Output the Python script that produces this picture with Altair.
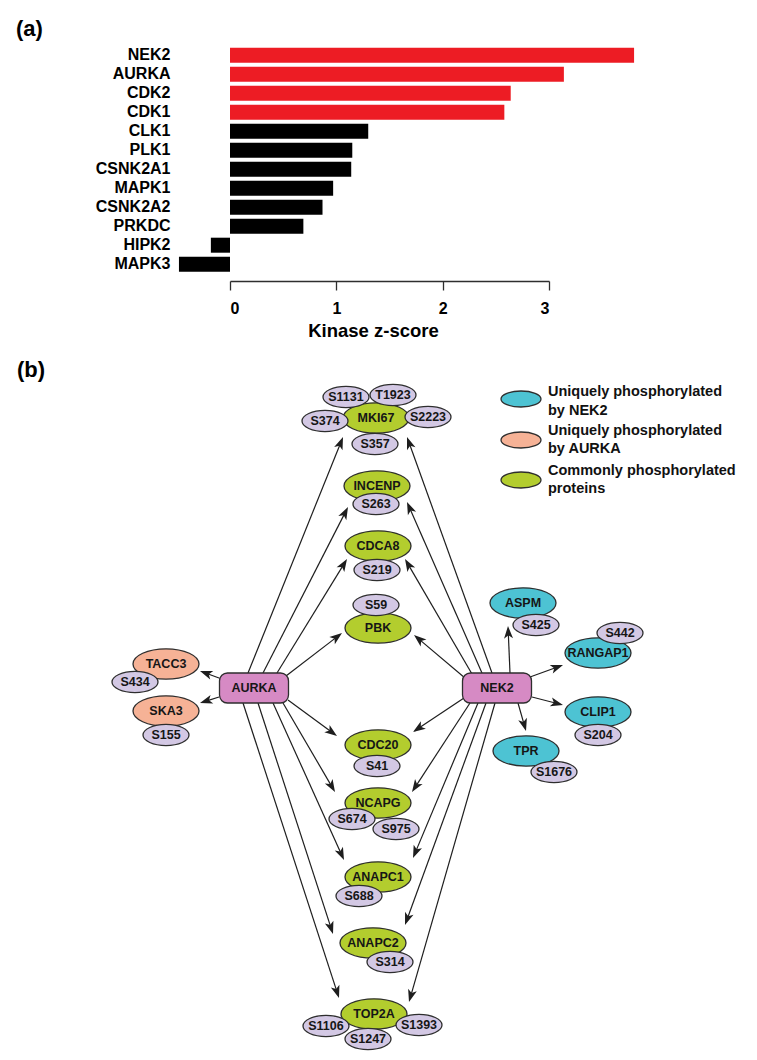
import math
import altair as alt
import pandas as pd

# ---------------- (a) kinase z-scores ----------------
kinases = ["NEK2", "AURKA", "CDK2", "CDK1", "CLK1", "PLK1", "CSNK2A1",
           "MAPK1", "CSNK2A2", "PRKDC", "HIPK2", "MAPK3"]
zscores = [3.80, 3.14, 2.64, 2.58, 1.30, 1.15, 1.14, 0.97, 0.87, 0.69, -0.18, -0.48]
significant = [True, True, True, True, False, False, False, False, False, False, False, False]
z_ticks = [0, 1, 2, 3]

# ---------------- (b) network layout (layout units) ----------------
protein_names = ["MKI67", "INCENP", "CDCA8", "PBK", "CDC20", "NCAPG", "ANAPC1", "ANAPC2", "TOP2A",
                 "TACC3", "SKA3", "ASPM", "RANGAP1", "CLIP1", "TPR"]
protein_kind = ["common"] * 9 + ["aurka"] * 2 + ["nek2"] * 4
protein_x = [376, 377, 378, 378, 378, 378, 378, 373, 374, 166, 166, 523, 598, 598, 526]
protein_y = [418, 486, 546, 628, 745, 803, 877, 943, 1014, 664, 711, 603, 653, 712, 751]

site_names = ["S1131", "T1923", "S374", "S2223", "S357", "S263", "S219", "S59", "S41",
              "S674", "S975", "S688", "S314", "S1106", "S1393", "S1247",
              "S434", "S155", "S425", "S442", "S204", "S1676"]
site_x = [346, 393, 325, 428, 375, 376, 377, 376, 377, 352, 396, 359, 390, 326, 419, 368,
          135, 166, 536, 620, 598, 554]
site_y = [397, 395, 421, 417, 444, 504, 570, 605, 766, 819, 829, 896, 962, 1026, 1025, 1039,
          682, 735, 625, 633, 735, 772]

kinase_nodes = ["AURKA", "NEK2"]
kinase_x = [254, 497]
kinase_y = [688, 688]

edge_source = ["AURKA"] * 11 + ["NEK2"] * 13
edge_target = ["TACC3", "SKA3", "MKI67", "INCENP", "CDCA8", "PBK", "CDC20", "NCAPG", "ANAPC1", "ANAPC2", "TOP2A",
               "ASPM", "RANGAP1", "CLIP1", "TPR", "MKI67", "INCENP", "CDCA8", "PBK", "CDC20", "NCAPG",
               "ANAPC1", "ANAPC2", "TOP2A"]
edge_x0 = [219, 219, 248, 263, 277, 286, 288, 283, 273, 258, 243,
           510, 530, 532, 518, 492, 482, 472, 465, 464, 470, 478, 486, 495]
edge_y0 = [678, 697, 673, 673, 673, 676, 700, 703, 703, 703, 703,
           673, 677, 697, 703, 673, 673, 674, 678, 698, 703, 703, 703, 703]
edge_x1 = [200, 200, 343, 348, 347, 342, 337, 335, 344, 333, 339,
           508, 563, 563, 526, 407, 407, 405, 414, 413, 412, 413, 405, 409]
edge_y1 = [671, 703, 437, 507, 559, 633, 736, 792, 860, 934, 998,
           626, 665, 705, 731, 437, 502, 559, 635, 732, 792, 858, 925, 1002]

legend_kinds = ["nek2", "aurka", "common"]
legend_x = [521, 521, 521]
legend_y = [399, 440, 480]
legend_lines = ["Uniquely phosphorylated", "by NEK2", "Uniquely phosphorylated", "by AURKA",
                "Commonly phosphorylated", "proteins"]
legend_line_x = [548] * 6
legend_line_y = [392, 411, 431, 449, 471, 489]

panel_labels = ["(a)", "(b)"]
panel_x = [16, 17]
panel_y = [29, 370]

FONT = "Liberation Sans"
W, H = 741, 1044
kind_domain = ["common", "aurka", "nek2"]
kind_colors = ["#b3cd2e", "#f6b296", "#4dc3d3"]
SITE_COLOR = "#d3c8e4"
KINASE_COLOR = "#d68ac4"
OUTLINE = "#2e2e2e"

ELLIPSE = ("M1,0C1,-0.254,0.552,-0.46,0,-0.46C-0.552,-0.46,-1,-0.254,-1,0"
           "C-1,0.254,-0.552,0.46,0,0.46C0.552,0.46,1,0.254,1,0Z")
LEG_ELLIPSE = ("M1,0C1,-0.221,0.552,-0.4,0,-0.4C-0.552,-0.4,-1,-0.221,-1,0"
               "C-1,0.221,-0.552,0.4,0,0.4C0.552,0.4,1,0.221,1,0Z")
RRECT = ("M-0.77,-0.435L0.77,-0.435C0.897,-0.435,1,-0.332,1,-0.205L1,0.205"
         "C1,0.332,0.897,0.435,0.77,0.435L-0.77,0.435C-0.897,0.435,-1,0.332,-1,0.205"
         "L-1,-0.205C-1,-0.332,-0.897,-0.435,-0.77,-0.435Z")
ARROW = "M0,0L0.72,2L0,1.5L-0.72,2Z"

# ---------------- bar chart ----------------
bar_df = pd.DataFrame({"kinase": kinases, "z": zscores,
                       "group": ["sig" if s else "other" for s in significant]})

bars = alt.Chart(bar_df).mark_bar().encode(
    y=alt.Y("kinase:N", sort=kinases, title=None,
            scale=alt.Scale(range=[37.7, 265.7], paddingInner=0.21, paddingOuter=0.105),
            axis=alt.Axis(orient="left", offset=-162, domain=False, ticks=False, labelPadding=0,
                          labelFont=FONT, labelFontSize=16, labelFontWeight="bold",
                          labelColor="#000000")),
    x=alt.X("z:Q", title="Kinase z-score",
            scale=alt.Scale(domain=[0, 3], range=[222, 541], nice=False, zero=False),
            axis=alt.Axis(orient="bottom", offset=-771, values=z_ticks, format="d", grid=False,
                          domainColor=OUTLINE, domainWidth=1.3, tickColor=OUTLINE, tickWidth=1.3,
                          tickSize=9, labelPadding=10, labelFont=FONT, labelFontSize=16,
                          labelFontWeight="bold", labelColor="#000000",
                          titleFont=FONT, titleFontSize=18.5, titleFontWeight="bold",
                          titleColor="#000000", titleX=365, titleY=55,
                          titleBaseline="alphabetic", titleAlign="center")),
    x2=alt.datum(0),
    color=alt.Color("group:N", scale=alt.Scale(domain=["sig", "other"],
                                               range=["#ed1c24", "#000000"]), legend=None),
)

# ---------------- network ----------------
def X(f):
    return alt.X(f"{f}:Q", scale=alt.Scale(domain=[8, 8 + W], nice=False, zero=False), axis=None)


def Y(f):
    return alt.Y(f"{f}:Q", scale=alt.Scale(domain=[8, 8 + H], nice=False, zero=False, reverse=True),
                 axis=None)


edges = pd.DataFrame({"source": edge_source, "target": edge_target,
                      "x0": edge_x0, "y0": edge_y0, "x1": edge_x1, "y1": edge_y1})
dx = edges["x1"] - edges["x0"]
dy = edges["y1"] - edges["y0"]
length = (dx ** 2 + dy ** 2) ** 0.5
edges["xe"] = edges["x1"] - dx / length * 8
edges["ye"] = edges["y1"] - dy / length * 8
edges["angle"] = [(math.degrees(math.atan2(a, -b)) + 360) % 360 for a, b in zip(dx, dy)]

proteins = pd.DataFrame({"name": protein_names, "kind": protein_kind, "x": protein_x, "y": protein_y})
sites = pd.DataFrame({"name": site_names, "x": site_x, "y": site_y})
knodes = pd.DataFrame({"name": kinase_nodes, "x": kinase_x, "y": kinase_y})
legend_df = pd.DataFrame({"kind": legend_kinds, "x": legend_x, "y": legend_y})
legend_text_df = pd.DataFrame({"text": legend_lines, "x": legend_line_x, "y": legend_line_y})
panel_df = pd.DataFrame({"text": panel_labels, "x": panel_x, "y": panel_y})

fill_enc = alt.Fill("kind:N", scale=alt.Scale(domain=kind_domain, range=kind_colors), legend=None)

edge_lines = alt.Chart(edges).mark_rule(color="#1e1e1e", strokeWidth=1.2).encode(
    x=X("x0"), y=Y("y0"), x2="xe:Q", y2="ye:Q")
arrows = alt.Chart(edges).mark_point(shape=ARROW, filled=True, size=156, color="#1e1e1e",
                                     opacity=1, strokeWidth=0).encode(
    x=X("x1"), y=Y("y1"), angle=alt.Angle("angle:Q", scale=None))
boxes = alt.Chart(knodes).mark_point(shape=RRECT, filled=True, size=4761, fill=KINASE_COLOR,
                                     stroke=OUTLINE, strokeWidth=1.3, opacity=1).encode(
    x=X("x"), y=Y("y"))
prot_marks = alt.Chart(proteins).mark_point(shape=ELLIPSE, filled=True, size=4356,
                                            stroke=OUTLINE, strokeWidth=1.3, opacity=1).encode(
    x=X("x"), y=Y("y"), fill=fill_enc)
site_marks = alt.Chart(sites).mark_point(shape=ELLIPSE, filled=True, size=2116, fill=SITE_COLOR,
                                         stroke=OUTLINE, strokeWidth=1.3, opacity=1).encode(
    x=X("x"), y=Y("y"))
prot_text = alt.Chart(proteins).mark_text(font=FONT, fontSize=12.5, fontWeight="bold",
                                          color="#161616").encode(x=X("x"), y=Y("y"), text="name:N")
site_text = alt.Chart(sites).mark_text(font=FONT, fontSize=12.5, fontWeight="bold",
                                       color="#161616").encode(x=X("x"), y=Y("y"), text="name:N")
box_text = alt.Chart(knodes).mark_text(font=FONT, fontSize=12.5, fontWeight="bold",
                                       color="#161616").encode(x=X("x"), y=Y("y"), text="name:N")
leg_marks = alt.Chart(legend_df).mark_point(shape=LEG_ELLIPSE, filled=True, size=1600,
                                            stroke=OUTLINE, strokeWidth=1.3, opacity=1).encode(
    x=X("x"), y=Y("y"), fill=fill_enc)
leg_text = alt.Chart(legend_text_df).mark_text(font=FONT, fontSize=14.5, fontWeight="bold",
                                               align="left", color="#111111").encode(
    x=X("x"), y=Y("y"), text="text:N")
panel_text = alt.Chart(panel_df).mark_text(font=FONT, fontSize=22, fontWeight="bold",
                                           align="left", color="#000000").encode(
    x=X("x"), y=Y("y"), text="text:N")

network = alt.layer(edge_lines, arrows, boxes, prot_marks, site_marks, prot_text, site_text,
                    box_text, leg_marks, leg_text, panel_text)

chart = alt.layer(bars, network).resolve_scale(
    x="independent", y="independent"
).properties(
    width=W, height=H, padding=0, autosize=alt.AutoSizeParams(type="none")
).configure_view(stroke=None)

chart.save("out.html", embed_options={"renderer": "svg", "actions": False})
